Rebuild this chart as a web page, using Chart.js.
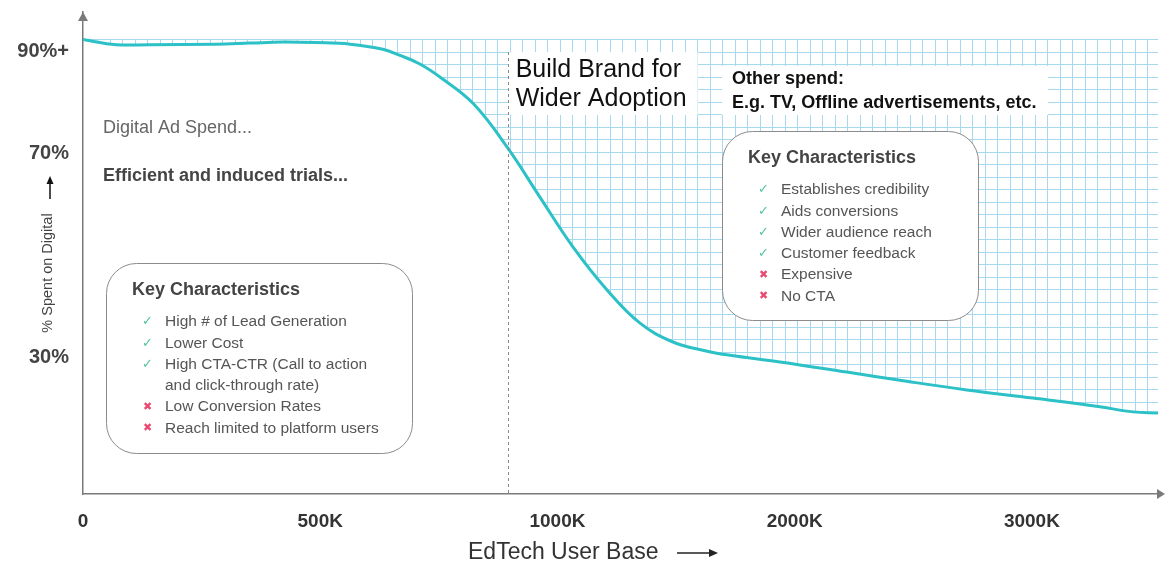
<!DOCTYPE html>
<html>
<head>
<meta charset="utf-8">
<script src="https://cdn.jsdelivr.net/npm/chart.js@4.4.1/dist/chart.umd.min.js"></script>
<style>
  html, body { margin: 0; padding: 0; background: #fff; }
  #wrap { width: 1165px; height: 567px; }
</style>
</head>
<body>
<div id="wrap"><canvas id="c" width="1165" height="567"></canvas></div>
<script>
// EdTech user base (thousands) vs % of spend on digital
const userBase = [0, 70, 141, 280, 352, 421, 491, 563, 632, 668, 710, 753, 822, 894, 963, 1066, 1209, 1348, 1487, 1631, 1727, 1938, 2220, 2444, 2726, 3005, 3287, 3426, 3532]
const digitalShare = [92.0, 91.0, 91.0, 91.1, 91.3, 91.5, 91.4, 91.1, 90.1, 88.9, 87.2, 84.6, 79.5, 70.9, 61.1, 51.3, 42.9, 36.4, 32.7, 30.9, 30.1, 28.8, 26.8, 25.2, 23.3, 21.7, 20.0, 19.0, 18.8]

const xTickValues = [0, 500, 1000, 2000, 3000]
const xTickLabels = ['0', '500K', '1000K', '2000K', '3000K']
const yTickValues = [30, 70, 90]
const yTickLabels = ['30%', '70%', '90%+']

const otherSpendTop = 92 // top edge of the "other spend" area
const brandStart = 895 // where brand building takes over

const digitalNotes = [
    ['High # of Lead Generation', true],
    ['Lower Cost', true],
    ['High CTA-CTR (Call to action', true],
    ['and click-through rate)', null],
    ['Low Conversion Rates', false],
    ['Reach limited to platform users', false]
]
const brandNotes = [
    ['Establishes credibility', true],
    ['Aids conversions', true],
    ['Wider audience reach', true],
    ['Customer feedback', true],
    ['Expensive', false],
    ['No CTA', false]
]

const FONT = '"Liberation Sans", Arial, sans-serif'
const AXIS = '#7a7a7a'

// each labelled step on the x axis gets the same width
class StepScale extends Chart.LinearScale {
    toSteps(v) {
        const t = xTickValues
        let i = 0
        while (i < t.length - 2 && v > t[i + 1]) i++
        return i + (v - t[i]) / (t[i + 1] - t[i])
    }
    getPixelForValue(value) {
        if (value === null || value === undefined) return NaN
        return this.getPixelForDecimal(this.toSteps(value) / this.toSteps(this.max))
    }
    getValueForPixel(pixel) {
        const s = this.getDecimalForPixel(pixel) * this.toSteps(this.max)
        const t = xTickValues
        const i = Math.min(Math.floor(s), t.length - 2)
        return t[i] + (s - i) * (t[i + 1] - t[i])
    }
}
StepScale.id = 'steps'
StepScale.defaults = Chart.LinearScale.defaults
Chart.register(StepScale)

const canvas = document.getElementById('c')
const ctx = canvas.getContext('2d')

function gridPattern() {
    const c = document.createElement('canvas')
    c.width = 25
    c.height = 25
    const g = c.getContext('2d')
    g.fillStyle = '#a6d9ef'
    g.fillRect(10, 0, 1, 25)
    g.fillRect(22, 0, 1, 25)
    g.fillRect(0, 2, 25, 1)
    g.fillRect(0, 14, 25, 1)
    return ctx.createPattern(c, 'repeat')
}

function notesBox(c, x, y, w, h, notes) {
    c.save()
    c.beginPath()
    c.roundRect(x + 0.5, y + 0.5, w, h, 30)
    c.fillStyle = '#fff'
    c.fill()
    c.strokeStyle = '#8c8c8c'
    c.lineWidth = 1
    c.stroke()
    c.textBaseline = 'middle'
    c.textAlign = 'left'
    c.fillStyle = '#444'
    c.font = 'bold 18px ' + FONT
    c.fillText('Key Characteristics', x + 26, y + 27)
    notes.forEach((n, i) => {
        const ty = y + 59 + i * 21.3
        if (n[1] === true) {
            c.fillStyle = '#55c29e'
            c.font = '13px "DejaVu Sans"'
            c.fillText('✓', x + 36, ty)
        } else if (n[1] === false) {
            c.fillStyle = '#ea4a70'
            c.font = '11px "DejaVu Sans"'
            c.fillText('✖', x + 37, ty)
        }
        c.fillStyle = '#555'
        c.font = '15.5px ' + FONT
        c.fillText(n[0], x + 59, ty)
    })
    c.restore()
}

const decor = {
    id: 'decor',
    afterDraw(chart) {
        const c = chart.ctx
        const a = chart.chartArea
        const xs = chart.scales.x
        c.save()

        // axis arrow heads
        c.fillStyle = AXIS
        c.beginPath()
        c.moveTo(a.left, a.top)
        c.lineTo(a.left - 5, a.top + 9)
        c.lineTo(a.left + 5, a.top + 9)
        c.fill()
        c.beginPath()
        c.moveTo(a.right + 5, a.bottom)
        c.lineTo(a.right - 3, a.bottom - 5)
        c.lineTo(a.right - 3, a.bottom + 5)
        c.fill()

        // left side notes
        c.textBaseline = 'middle'
        c.fillStyle = '#666'
        c.font = '18px ' + FONT
        c.fillText('Digital Ad Spend...', 103, 128)
        c.fillStyle = '#444'
        c.font = 'bold 18px ' + FONT
        c.fillText('Efficient and induced trials...', 103, 176)

        // brand label + divider
        const bx = xs.getPixelForValue(brandStart)
        c.fillStyle = '#fff'
        c.fillRect(bx + 1, 52, 189, 63)
        c.strokeStyle = '#888'
        c.lineWidth = 1
        c.setLineDash([3, 3])
        c.beginPath()
        c.moveTo(Math.round(bx) + 0.5, 52)
        c.lineTo(Math.round(bx) + 0.5, a.bottom)
        c.stroke()
        c.setLineDash([])
        c.fillStyle = '#111'
        c.font = '25px ' + FONT
        c.fillText('Build Brand for', bx + 8, 70)
        c.fillText('Wider Adoption', bx + 8, 99)

        // other spend label
        c.fillStyle = '#fff'
        c.fillRect(722, 66, 326, 49)
        c.fillStyle = '#111'
        c.font = 'bold 18px ' + FONT
        c.fillText('Other spend:', 732, 79)
        c.fillText('E.g. TV, Offline advertisements, etc.', 732, 103)

        notesBox(c, 106, 263, 306, 190, digitalNotes)
        notesBox(c, 722, 131, 256, 189, brandNotes)

        // axis titles
        c.fillStyle = '#333'
        c.font = '23px ' + FONT
        c.textAlign = 'left'
        c.fillText('EdTech User Base', 468, 553)
        c.strokeStyle = '#222'
        c.lineWidth = 1.5
        c.beginPath()
        c.moveTo(677, 553)
        c.lineTo(712, 553)
        c.stroke()
        c.fillStyle = '#222'
        c.beginPath()
        c.moveTo(718, 553)
        c.lineTo(709, 549)
        c.lineTo(709, 557)
        c.fill()

        c.save()
        c.translate(48, 273)
        c.rotate(-Math.PI / 2)
        c.textAlign = 'center'
        c.fillStyle = '#444'
        c.font = '14.5px ' + FONT
        c.fillText('% Spent on Digital', 0, 0)
        c.restore()
        c.strokeStyle = '#111'
        c.lineWidth = 1.5
        c.beginPath()
        c.moveTo(50, 199)
        c.lineTo(50, 182)
        c.stroke()
        c.fillStyle = '#111'
        c.beginPath()
        c.moveTo(50, 176)
        c.lineTo(46.5, 184)
        c.lineTo(53.5, 184)
        c.fill()

        c.restore()
    }
}

new Chart(canvas, {
    type: 'line',
    data: {
        datasets: [
            {
                label: 'Other spend',
                data: userBase.map(u => ({x: u, y: otherSpendTop})),
                borderColor: '#a6d9ef',
                borderWidth: 1,
                pointRadius: 0,
                fill: '+1',
                backgroundColor: gridPattern(),
                order: 2
            },
            {
                label: '% Spent on Digital',
                data: userBase.map((u, i) => ({x: u, y: digitalShare[i]})),
                borderColor: '#2cc0c7',
                borderWidth: 3,
                pointRadius: 0,
                fill: false,
                tension: 0.4,
                order: 1
            }
        ]
    },
    options: {
        responsive: false,
        animation: false,
        devicePixelRatio: 1,
        layout: {padding: {top: 12, right: 5, left: 0, bottom: 0}},
        plugins: {legend: {display: false}, tooltip: {enabled: false}},
        scales: {
            x: {
                type: 'steps',
                min: 0,
                max: 3540,
                grid: {display: false, drawTicks: false},
                border: {display: true, color: AXIS, width: 1.5},
                afterBuildTicks: s => { s.ticks = xTickValues.map(v => ({value: v})) },
                afterFit: s => { s.height = 73 },
                ticks: {
                    autoSkip: false,
                    maxRotation: 0,
                    padding: 16,
                    color: '#333',
                    font: {family: FONT, size: 19, weight: 'bold'},
                    callback: (v, i) => xTickLabels[i]
                }
            },
            y: {
                min: 2.9,
                max: 97.4,
                grid: {display: false, drawTicks: false},
                border: {display: true, color: AXIS, width: 1.5},
                afterBuildTicks: s => { s.ticks = yTickValues.map(v => ({value: v})) },
                afterFit: s => {
                    s.width = 83
                    s.paddingTop = 0
                    s.paddingBottom = 0
                },
                ticks: {
                    padding: 14,
                    labelOffset: 2,
                    color: '#444',
                    font: {family: FONT, size: 20, weight: 'bold'},
                    callback: (v, i) => yTickLabels[i]
                }
            }
        }
    },
    plugins: [decor]
})
</script>
</body>
</html>
